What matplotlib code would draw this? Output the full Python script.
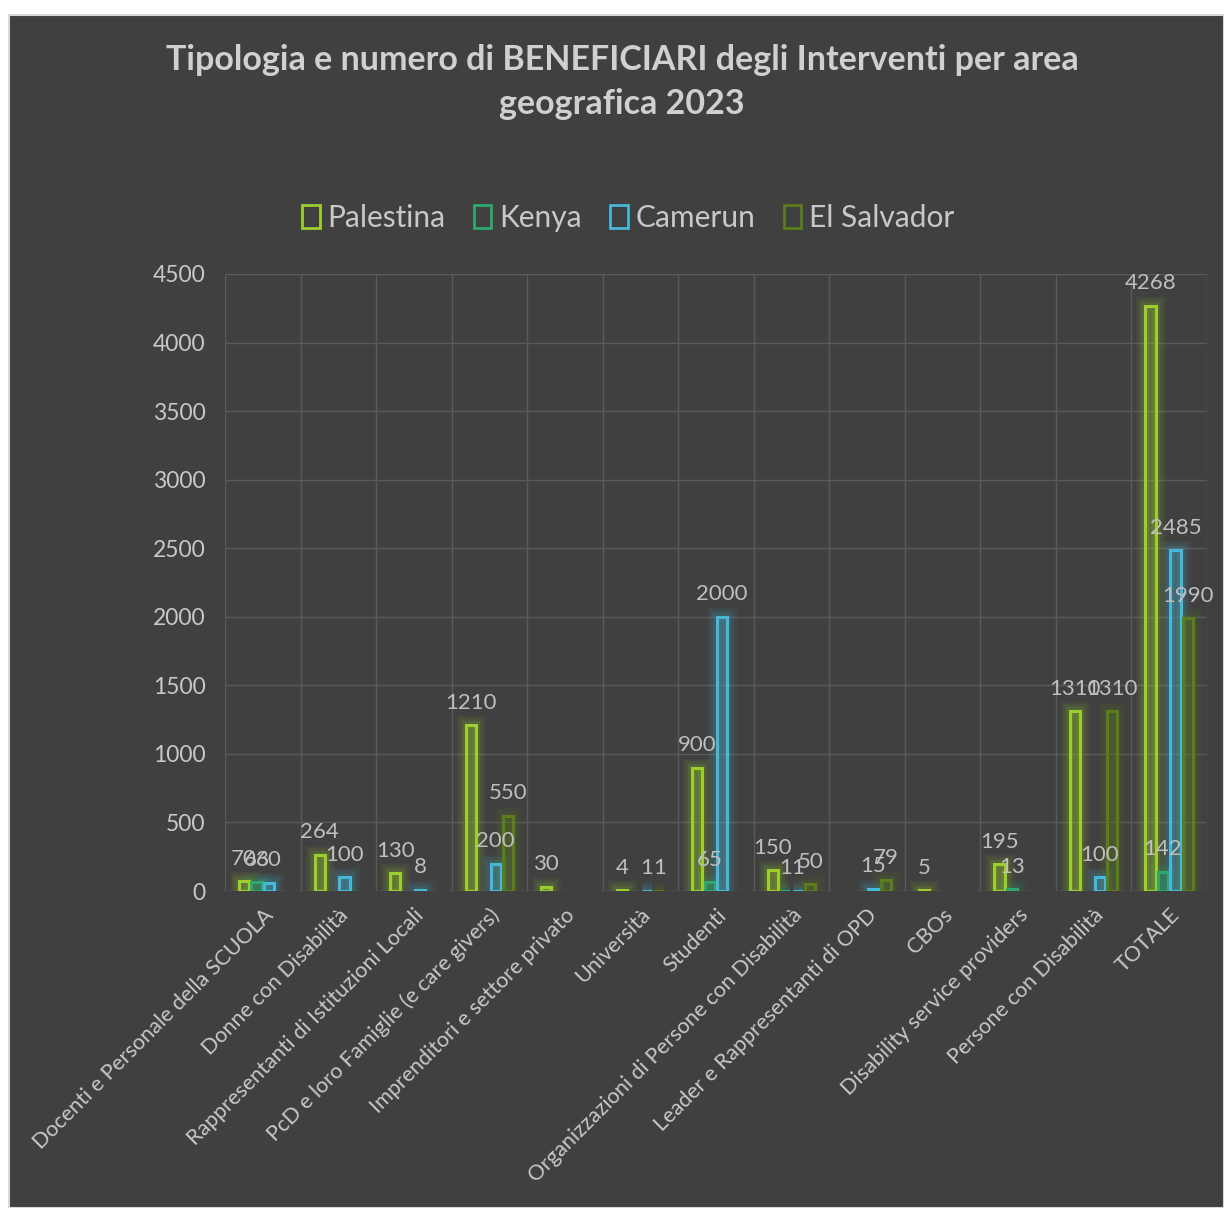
import numpy as np
import matplotlib
matplotlib.use("Agg")
import matplotlib.pyplot as plt
from matplotlib.patches import Rectangle

plt.rcParams['font.family'] = ['Lato', 'DejaVu Sans']

categorie = ["Docenti e Personale della SCUOLA", "Donne con Disabilità",
             "Rappresentanti di Istituzioni Locali", "PcD e loro Famiglie (e care givers)",
             "Imprenditori e settore privato", "Università", "Studenti",
             "Organizzazioni di Persone con Disabilità", "Leader e Rappresentanti di OPD",
             "CBOs", "Disability service providers", "Persone con Disabilità", "TOTALE"]
nan = np.nan
palestina = [70, 264, 130, 1210, 30, 4, 900, 150, nan, 5, 195, 1310, 4268]
kenya = [63, nan, nan, nan, nan, nan, 65, 1, nan, nan, 13, nan, 142]
camerun = [60, 100, 8, 200, nan, 1, 2000, 1, 15, nan, nan, 100, 2485]
el_salvador = [nan, nan, nan, 550, nan, 1, nan, 50, 79, nan, nan, 1310, 1990]

serie = ["Palestina", "Kenya", "Camerun", "El Salvador"]
valori = [palestina, kenya, camerun, el_salvador]
colori = ["#9ccf2e", "#2ea86f", "#46b8d8", "#5c7d1c"]

bg = "#404040"
txt = "#d0d0d0"

fig = plt.figure(figsize=(12.24, 12.08), dpi=100, facecolor="white")
fig.patches.append(Rectangle((9 / 1224, 0), 1 - 9 / 1224, 1 - 15 / 1208,
                             transform=fig.transFigure, facecolor=bg,
                             edgecolor="#d8d8d8", linewidth=1.5, zorder=-10))

ax = fig.add_axes([225 / 1224, 1 - 891 / 1208, (1207 - 225) / 1224, (891 - 274) / 1208])
ax.patch.set_alpha(0)

x = np.arange(len(categorie))
w = 0.135
passo = 0.165
for i, (nome, vals, col) in enumerate(zip(serie, valori, colori)):
    xs = x + (i - 1.5) * passo
    v = np.array(vals, dtype=float)
    ok = ~np.isnan(v)
    # alone luminoso intorno alle barre
    for lw, a in [(14, 0.06), (10, 0.08), (6, 0.12)]:
        ax.bar(xs[ok], v[ok], width=w, facecolor="none", edgecolor=col,
               linewidth=lw, alpha=a, zorder=2)
    ax.bar(xs[ok], v[ok], width=w, facecolor=col + "40", edgecolor=col,
           linewidth=2.2, zorder=3, label=nome)
    for xx, vv in zip(xs[ok], v[ok]):
        ax.annotate(f"{int(vv)}", (xx, vv), xytext=(0, 9), textcoords="offset points",
                    ha="center", va="bottom", color="#bfbfbf", fontsize=16, zorder=5)

ax.set_ylim(0, 4500)
ax.set_yticks(np.arange(0, 4501, 500))
ax.set_xlim(-0.5, len(categorie) - 0.5)
ax.set_xticks(x)
ax.set_xticklabels(categorie, rotation=45, ha="right", rotation_mode="anchor",
                   fontsize=15.5, color="#c8c8c8")
ax.tick_params(axis="x", length=0, pad=10)
ax.tick_params(axis="y", length=0, pad=14, labelsize=16.5, labelcolor="#c8c8c8")

# griglia: linee orizzontali e separatori fra categorie
for yv in np.arange(0, 4501, 500):
    ax.axhline(yv, color="#5a5a5a", linewidth=1, zorder=1)
for xv in np.arange(-0.5, len(categorie), 1):
    ax.axvline(xv, color="#5a5a5a", linewidth=1, zorder=1)
for s in ax.spines.values():
    s.set_visible(False)

fig.text(622 / 1224, 1 - 60 / 1208, "Tipologia e numero di BENEFICIARI degli Interventi per area",
         ha="center", va="center", fontsize=24.5, fontweight="bold", color=txt)
fig.text(622 / 1224, 1 - 104 / 1208, "geografica 2023",
         ha="center", va="center", fontsize=24.5, fontweight="bold", color=txt)

leg = ax.legend(loc="center", bbox_to_anchor=(628 / 1224, 1 - 218 / 1208),
                bbox_transform=fig.transFigure, ncol=4, frameon=False,
                fontsize=21.5, handlelength=0.6, handleheight=0.8, handletextpad=0.25,
                columnspacing=0.95)
for t in leg.get_texts():
    t.set_color("#c8c8c8")
for h, col in zip(leg.legend_handles, colori):
    h.set_facecolor("none")
    h.set_edgecolor(col)
    h.set_linewidth(2)

fig.savefig("out.png", dpi=100, facecolor="white")
